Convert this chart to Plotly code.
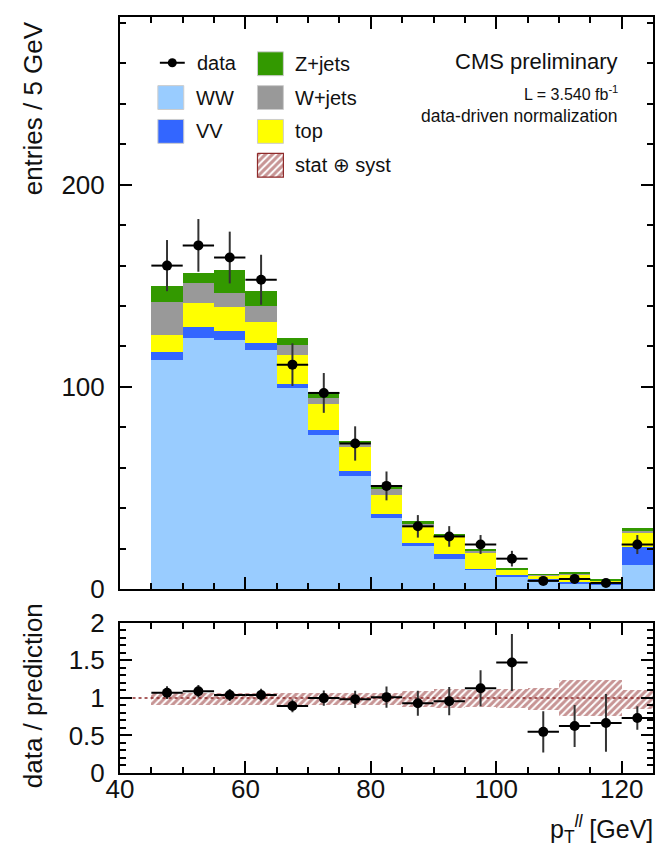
import numpy as np
import plotly.graph_objects as go

# --- binning (5 GeV bins, last bin holds the overflow) ---
bin_lo = [45, 50, 55, 60, 65, 70, 75, 80, 85, 90, 95, 100, 105, 110, 115, 120]
bin_width = 5.0

# --- stacked predictions, per process ---
ww    = [113.5, 124.4, 123.1, 118.2, 99.2, 76.2, 55.8, 35.3, 21.4, 14.8, 9.5, 6.1, 4.1, 2.8, 2.0, 11.8]
vv    = [3.8, 5.0, 4.6, 3.7, 2.4, 2.4, 2.5, 1.9, 1.3, 2.4, 0.3, 0.7, 0.7, 0.7, 0.8, 8.8]
top   = [8.3, 12.0, 11.9, 10.1, 14.1, 12.9, 12.1, 9.1, 7.8, 8.8, 8.3, 2.9, 1.8, 3.9, 1.2, 7.0]
wjets = [16.5, 10.2, 6.9, 8.1, 4.9, 3.0, 2.0, 3.4, 1.9, 0.7, 0.7, 0.0, 0.4, 0.3, 0.3, 1.3]
zjets = [7.6, 4.5, 11.4, 7.3, 3.8, 2.8, 1.0, 0.8, 1.0, 0.5, 0.7, 0.5, 0.3, 0.3, 0.2, 1.1]

# --- observed counts ---
data = [160, 170, 164, 153, 111, 97, 72, 51, 31, 26, 22, 15, 4, 5, 3, 22]

# --- relative stat (+) syst uncertainty band on the prediction ---
band_lo = [0.91, 0.91, 0.91, 0.91, 0.91, 0.91, 0.91, 0.91, 0.88, 0.87, 0.88, 0.87, 0.84, 0.76, 0.76, 0.85]
band_hi = [1.07, 1.07, 1.07, 1.07, 1.07, 1.07, 1.07, 1.07, 1.10, 1.12, 1.11, 1.12, 1.14, 1.24, 1.24, 1.11]

processes = [
    ("WW", ww, "#99ccff"),
    ("VV", vv, "#3366ff"),
    ("top", top, "#ffff00"),
    ("W+jets", wjets, "#999999"),
    ("Z+jets", zjets, "#339900"),
]

centers = np.array(bin_lo) + bin_width / 2
data_arr = np.array(data, dtype=float)
pred = np.sum([np.array(v) for _, v, _ in processes], axis=0)
ratio = data_arr / pred
ratio_err = np.sqrt(data_arr) / pred

FONT = "Liberation Sans, Arial, Helvetica, sans-serif"
HATCH = "#8f2a2a"

fig = go.Figure()

# stacked histogram
for name, vals, col in processes:
    fig.add_trace(go.Bar(
        x=centers, y=vals, width=bin_width, name=name,
        marker=dict(color=col, line=dict(width=0)),
        xaxis="x", yaxis="y", showlegend=False,
    ))

# data points with Poisson errors
fig.add_trace(go.Scatter(
    x=centers, y=data_arr, mode="markers",
    marker=dict(color="black", size=10),
    error_y=dict(type="data", array=np.sqrt(data_arr), color="#333333", thickness=2, width=0),
    error_x=dict(type="constant", value=bin_width / 2, color="black", thickness=2, width=0),
    xaxis="x", yaxis="y", showlegend=False,
))

# ratio panel: reference line at 1
fig.add_trace(go.Scatter(
    x=[42, 125], y=[1, 1], mode="lines",
    line=dict(color=HATCH, width=1.5, dash="3px,3px"),
    xaxis="x2", yaxis="y2", showlegend=False, hoverinfo="skip",
))

# ratio panel: uncertainty band
fig.add_trace(go.Bar(
    x=centers, base=band_lo, y=np.array(band_hi) - np.array(band_lo), width=bin_width,
    marker=dict(color="rgba(0,0,0,0)", line=dict(width=0),
                pattern=dict(shape="/", fgcolor=HATCH, bgcolor="rgba(0,0,0,0)",
                             size=5, solidity=0.6, fillmode="overlay")),
    xaxis="x2", yaxis="y2", showlegend=False,
))

# ratio panel: data / prediction
fig.add_trace(go.Scatter(
    x=centers, y=ratio, mode="markers",
    marker=dict(color="black", size=10),
    error_y=dict(type="data", array=ratio_err, color="#333333", thickness=2, width=0),
    error_x=dict(type="constant", value=bin_width / 2, color="black", thickness=2, width=0),
    xaxis="x2", yaxis="y2", showlegend=False,
))

# --- hand-made legend, laid out on a hidden overlay in pixel units ---
LX3 = dict(xref="x3", yref="y3")
legend_boxes = [
    ("WW", "#99ccff", 158, 82),
    ("VV", "#3366ff", 158, 116),
    ("Z+jets", "#339900", 258, 48),
    ("W+jets", "#999999", 258, 82),
    ("top", "#ffff00", 258, 116),
]
shapes = []
annotations = []
for label, col, x0, y0 in legend_boxes:
    shapes.append(dict(type="rect", x0=x0, x1=x0 + 26, y0=y0, y1=y0 + 24,
                       fillcolor=col, line=dict(color="#cccccc", width=1), **LX3))
    annotations.append(dict(x=x0 + 36, y=y0 + 12, text=label, showarrow=False,
                            xanchor="left", yanchor="middle",
                            font=dict(size=20, color="#111111", family=FONT), **LX3))

# data entry
shapes.append(dict(type="line", x0=160, x1=185, y0=59, y1=59,
                   line=dict(color="black", width=2), **LX3))
fig.add_trace(go.Scatter(x=[172.5], y=[59], mode="markers",
                         marker=dict(color="black", size=9),
                         xaxis="x3", yaxis="y3", showlegend=False, hoverinfo="skip"))
annotations.append(dict(x=195, y=59, text="data", showarrow=False,
                        xanchor="left", yanchor="middle",
                        font=dict(size=20, color="#111111", family=FONT), **LX3))

# hatched entry
fig.add_trace(go.Scatter(
    x=[258, 284, 284, 258, 258], y=[150, 150, 174, 174, 150], mode="lines",
    fill="toself", fillcolor="rgba(0,0,0,0)",
    fillpattern=dict(shape="/", fgcolor=HATCH, bgcolor="white", size=5, solidity=0.6),
    line=dict(color=HATCH, width=1.2),
    xaxis="x3", yaxis="y3", showlegend=False, hoverinfo="skip",
))
annotations.append(dict(x=294, y=162, text="stat \u2295 syst", showarrow=False,
                        xanchor="left", yanchor="middle",
                        font=dict(size=20, color="#111111", family=FONT), **LX3))

# header texts
annotations += [
    dict(x=622, y=58, text="CMS preliminary", showarrow=False, xanchor="right", yanchor="middle",
         font=dict(size=22, color="#111111", family=FONT), **LX3),
    dict(x=622, y=89, text="L = 3.540 fb<sup>-1</sup>", showarrow=False, xanchor="right", yanchor="middle",
         font=dict(size=16, color="#111111", family=FONT), **LX3),
    dict(x=622, y=113, text="data-driven normalization", showarrow=False, xanchor="right", yanchor="middle",
         font=dict(size=17.5, color="#111111", family=FONT), **LX3),
]

# axis titles (x positions given as pixel offsets from the left frame)
annotations += [
    dict(x=-87 / 535.0, y=1.0, xref="paper", yref="paper", xanchor="center", yanchor="top",
         text="entries / 5 GeV", textangle=-90, showarrow=False, yshift=-2,
         font=dict(size=26, color="#111111", family=FONT)),
    dict(x=-87 / 535.0, y=0.102, xref="paper", yref="paper", xanchor="center", yanchor="middle",
         text="data / prediction", textangle=-90, showarrow=False,
         font=dict(size=26, color="#111111", family=FONT)),
    dict(x=1.0, y=0, xref="paper", yref="paper", xanchor="right", yanchor="top", yshift=-36,
         text="p<sub>T</sub><sup><i>ll</i></sup> [GeV]", showarrow=False, xshift=2,
         font=dict(size=25, color="#111111", family=FONT)),
]

frame = dict(showline=True, linecolor="black", linewidth=2, mirror="ticks",
             ticks="inside", ticklen=12, tickwidth=1.5, tickcolor="black",
             showgrid=False, zeroline=False,
             tickfont=dict(size=26, color="#111111", family=FONT))

fig.update_layout(
    width=657, height=853,
    margin=dict(l=120, r=2, t=13, b=80),
    paper_bgcolor="white", plot_bgcolor="rgba(0,0,0,0)",
    barmode="stack", bargap=0,
    font=dict(family=FONT, color="#111111"),
    xaxis=dict(range=[40, 125], anchor="y", showticklabels=False, dtick=20, tick0=40,
               minor=dict(ticks="inside", ticklen=6, dtick=5, tick0=40, tickcolor="black"),
               **frame),
    yaxis=dict(range=[0, 283], domain=[0.2434, 1.0], anchor="x", dtick=100,
               minor=dict(ticks="inside", ticklen=6, dtick=20, tickcolor="black"),
               ticklabelstandoff=8, **frame),
    xaxis2=dict(range=[40, 125], anchor="y2", matches="x", dtick=20, tick0=40,
                minor=dict(ticks="inside", ticklen=6, dtick=5, tick0=40, tickcolor="black"),
                ticklabelstandoff=-8, **frame),
    yaxis2=dict(range=[0, 2.0], domain=[0, 0.1987], anchor="x2", dtick=0.5,
                minor=dict(ticks="inside", ticklen=6, dtick=0.1, tickcolor="black"),
                ticklabelstandoff=8, **frame),
    xaxis3=dict(range=[120, 655], overlaying="x", anchor="y3", visible=False),
    yaxis3=dict(range=[588, 13], overlaying="y", anchor="x3", visible=False),
    shapes=shapes,
    annotations=annotations,
)

fig.write_html("out.html")
